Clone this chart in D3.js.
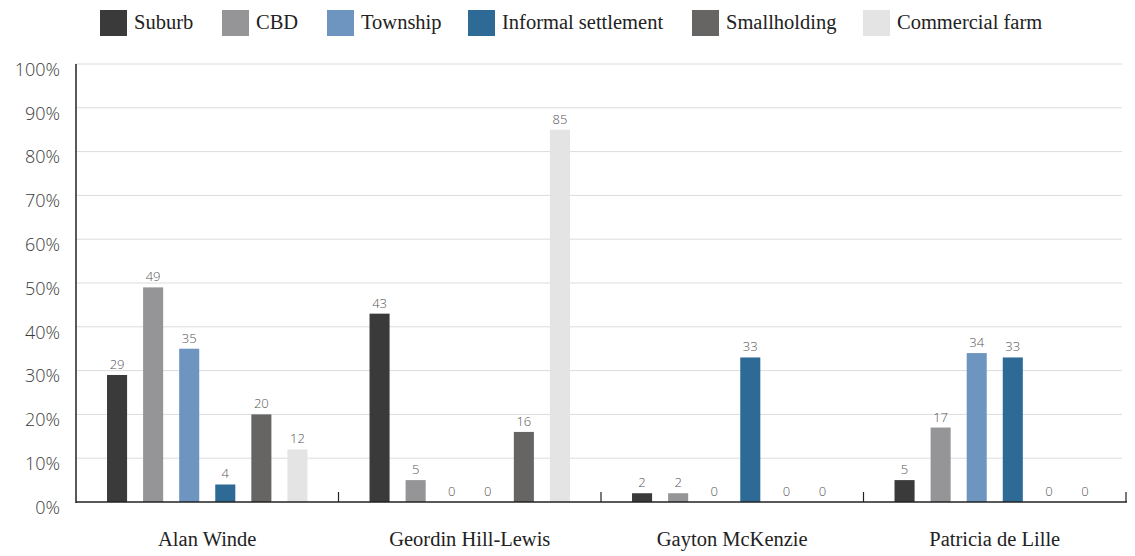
<!DOCTYPE html>
<html><head><meta charset="utf-8">
<script src="https://cdn.jsdelivr.net/npm/d3@7"></script>
<style>body{margin:0;background:#fff}</style>
</head><body>
<svg id="c" width="1135" height="556"></svg>
<script>
const categories = ["Alan Winde","Geordin Hill-Lewis","Gayton McKenzie","Patricia de Lille"];
const seriesNames = ["Suburb","CBD","Township","Informal settlement","Smallholding","Commercial farm"];
const seriesColors = ["#3a3a3a","#959497","#6e95bf","#2d6a96","#666564","#e4e4e4"];
const suburb = [29,43,2,5];
const cbd = [49,5,2,17];
const township = [35,0,0,34];
const informal = [4,0,33,33];
const smallholding = [20,16,0,0];
const commercial = [12,85,0,0];
const yTicks = [0,10,20,30,40,50,60,70,80,90,100];
const seriesValues = [suburb,cbd,township,informal,smallholding,commercial];

(function(){
const svg = d3.select("#c");
const mL = 76, mR = 1126, mT = 64, mB = 502;
const SERIF = "Liberation Serif";
const SANS = "Open Sans";
const x0 = d3.scaleBand().domain(categories).range([mL,mR]).padding(0);
const x1 = d3.scaleBand().domain(seriesNames).range([0,x0.bandwidth()]).paddingInner(0.444).paddingOuter(0.86);
const y = d3.scaleLinear().domain([0,100]).range([mB,mT]);

// gridlines
svg.append("g").selectAll("line").data(yTicks.filter(d=>d>0)).join("line")
  .attr("x1",mL).attr("x2",mR-4).attr("y1",d=>y(d)).attr("y2",d=>y(d))
  .attr("stroke","#dcdcdc").attr("stroke-width",1);

// y labels
svg.append("g").selectAll("text").data(yTicks).join("text")
  .attr("x",60).attr("y",d=>y(d)+7).attr("text-anchor","end").attr("dominant-baseline","middle")
  .style("font-family",SANS).style("font-weight",300).style("font-size","18px").attr("fill","#3a3a3a")
  .text(d=>d+"%");

// bars
const groups = svg.append("g").selectAll("g").data(categories).join("g")
  .attr("transform",c=>`translate(${x0(c)},0)`);
groups.each(function(c,ci){
  const g = d3.select(this);
  const data = seriesNames.map((s,si)=>({s,si,v:seriesValues[si][ci]}));
  g.selectAll("rect").data(data).join("rect")
    .attr("x",d=>x1(d.s)).attr("width",x1.bandwidth())
    .attr("y",d=>y(d.v)).attr("height",d=>y(0)-y(d.v))
    .attr("fill",d=>seriesColors[d.si]);
  g.selectAll("text").data(data).join("text")
    .attr("x",d=>x1(d.s)+x1.bandwidth()/2).attr("y",d=>y(d.v)-6)
    .attr("text-anchor","middle")
    .style("font-family",SANS).style("font-weight",300).style("font-size","13px").attr("fill","#555")
    .text(d=>d.v);
});

// axes
svg.append("line").attr("x1",mL).attr("x2",mL).attr("y1",mT).attr("y2",mB+1)
  .attr("stroke","#222").attr("stroke-width",1.5);
svg.append("line").attr("x1",mL).attr("x2",mR+1).attr("y1",mB).attr("y2",mB)
  .attr("stroke","#222").attr("stroke-width",1.5);
const bounds = categories.map(c=>x0(c)).concat([mR]).slice(1);
svg.append("g").selectAll("line").data(bounds).join("line")
  .attr("x1",d=>d).attr("x2",d=>d).attr("y1",mB-10).attr("y2",mB)
  .attr("stroke","#222").attr("stroke-width",1.2);

// category labels
svg.append("g").selectAll("text").data(categories).join("text")
  .attr("x",c=>x0(c)+x0.bandwidth()/2).attr("y",546).attr("text-anchor","middle")
  .style("font-family",SERIF).style("font-size","20.5px").attr("fill","#222")
  .text(c=>c);

// legend
const legX = [100,222,327,468,692,863];
const leg = svg.append("g").selectAll("g").data(seriesNames).join("g")
  .attr("transform",(d,i)=>`translate(${legX[i]},10)`);
leg.append("rect").attr("width",27).attr("height",26).attr("fill",(d,i)=>seriesColors[i]);
leg.append("text").attr("x",34).attr("y",19)
  .style("font-family",SERIF).style("font-size","20.5px").attr("fill","#222")
  .text(d=>d);
})();
</script>
</body></html>
